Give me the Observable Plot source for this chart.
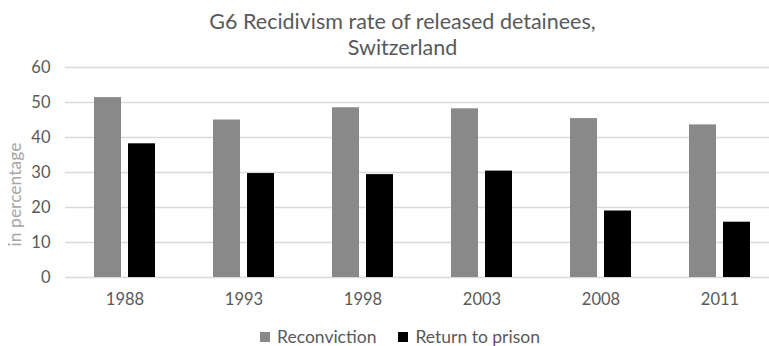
<!DOCTYPE html>
<html>
<head>
<meta charset="utf-8">
<script src="https://cdn.jsdelivr.net/npm/d3@7"></script>
<script src="https://cdn.jsdelivr.net/npm/@observablehq/plot@0.6"></script>
<style>
  html, body { margin: 0; padding: 0; background: #fff; }
  body { width: 769px; height: 346px; overflow: hidden; position: relative; font-family: Lato, "Open Sans", sans-serif; }
  #title { position: absolute; left: 0; top: 8px; width: 805px; text-align: center; font-size: 21.5px; line-height: 26px; color: #595959; z-index: 2; }
  #chart { position: absolute; left: 0; top: 50px; }
  #chart svg { overflow: hidden; background: transparent; }
  #legend { position: absolute; left: 0; top: 328px; width: 800px; display: flex; justify-content: center; align-items: center; font-size: 17.5px; color: #595959; line-height: 18px; }
  .sw { width: 10px; height: 10px; display: inline-block; margin-right: 7px; }
  .item { display: flex; align-items: center; margin: 0 11px; }
</style>
</head>
<body>
<div id="title">G6 Recidivism rate of released detainees,<br>Switzerland</div>
<div id="chart"></div>
<div id="legend"></div>
<script>
const years = ["1988", "1993", "1998", "2003", "2008", "2011"];
const seriesNames = ["Reconviction", "Return to prison"];
const reconviction = [51.4, 45.0, 48.5, 48.2, 45.4, 43.6];
const returnToPrison = [38.2, 29.7, 29.4, 30.4, 19.0, 15.8];
const yTicks = [0, 10, 20, 30, 40, 50, 60];
const seriesColors = ["#898989", "#000000"];
const yLabel = "in percentage";

const data = [];
years.forEach((yr, i) => {
  data.push({year: yr, series: seriesNames[0], value: reconviction[i]});
  data.push({year: yr, series: seriesNames[1], value: returnToPrison[i]});
});

const chart = Plot.plot({
  width: 769,
  height: 270,
  marginTop: 17,
  marginBottom: 43,
  marginLeft: 65,
  marginRight: 0,
  style: {fontFamily: "Lato, 'Open Sans', sans-serif", fontSize: "16.5px", color: "#595959", background: "transparent"},
  fx: {domain: years, range: [65, 779], padding: 0, label: null, axis: null},
  x: {domain: seriesNames, paddingInner: 0.206, paddingOuter: 0.853, axis: null},
  y: {domain: [0, 60], label: null, axis: null},
  color: {domain: seriesNames, range: seriesColors},
  marks: [
    Plot.ruleY(yTicks, {stroke: "#d9d9d9", strokeWidth: 1.3}),
    Plot.barY(data, {fx: "year", x: "series", y: "value", fill: "series"}),
    Plot.axisY({ticks: yTicks, tickSize: 0, tickPadding: 15, label: null, fill: "#595959", fontSize: 16.5}),
    Plot.axisFx({anchor: "bottom", tickSize: 0, tickPadding: 16, label: null, fill: "#595959", fontSize: 16.5}),
    Plot.text([yLabel], {text: d => d, frameAnchor: "left", textAnchor: "middle", rotate: -90, dx: -50, dy: 22, fill: "#a6a6a6", fontSize: 17.5, facetAnchor: "left"})
  ]
});
document.getElementById("chart").appendChild(chart);

const legend = document.getElementById("legend");
seriesNames.forEach((name, i) => {
  const item = document.createElement("div");
  item.className = "item";
  const sw = document.createElement("span");
  sw.className = "sw";
  sw.style.background = seriesColors[i];
  item.appendChild(sw);
  item.appendChild(document.createTextNode(name));
  legend.appendChild(item);
});
</script>
</body>
</html>
